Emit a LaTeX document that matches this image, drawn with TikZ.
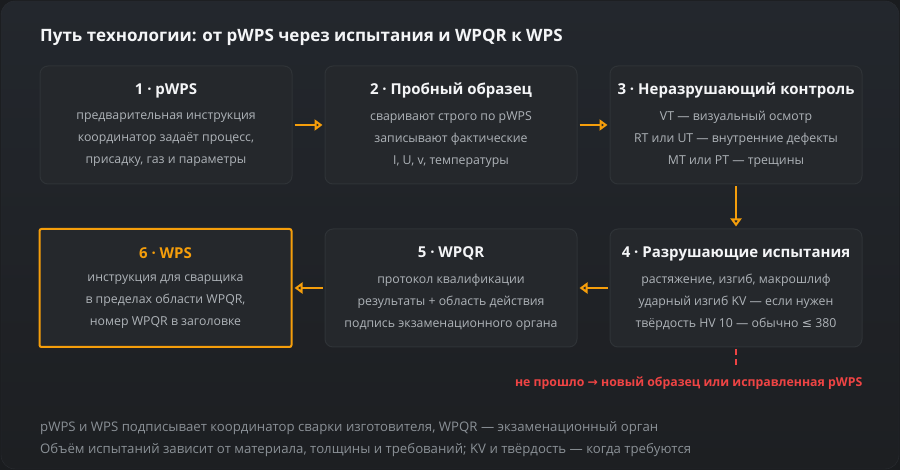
\documentclass[tikz,border=0pt]{standalone}
\usepackage{fontspec}
\setmainfont{Open Sans}
\newfontfamily\symfont{DejaVu Sans}
\usetikzlibrary{positioning,arrows.meta}

\definecolor{pagebg}{HTML}{1A1C1F}
\definecolor{bgtop}{HTML}{23272D}
\definecolor{bgbot}{HTML}{1D1F22}
\definecolor{frameline}{HTML}{2B2E33}
\definecolor{cardfill}{HTML}{25282C}
\definecolor{cardline}{HTML}{2F3337}
\definecolor{headwhite}{HTML}{F4F5F7}
\definecolor{bodygray}{HTML}{AEB3B8}
\definecolor{footgray}{HTML}{8A9096}
\definecolor{flowor}{HTML}{F59E0B}
\definecolor{failred}{HTML}{EF4444}

\tikzset{
  card/.style={draw=cardline, fill=cardfill, rounded corners=8pt, line width=1pt,
    minimum width=252pt, minimum height=118pt, inner sep=0pt},
  cardhead/.style={text=headwhite, font=\bfseries\fontsize{15}{18}\selectfont},
  cardbody/.style={text=bodygray, align=center, font=\fontsize{12.3}{22}\selectfont},
  flow/.style={draw=flowor, line width=2.5pt, -{Triangle[open,length=8pt,width=11pt]},
    shorten <=2pt, shorten >=2pt},
  footline/.style={anchor=base west, inner sep=0pt, text=footgray,
    font=\fontsize{13.2}{16}\selectfont},
}

\begin{document}
\begin{tikzpicture}[x=1pt, y=-1pt]
  \useasboundingbox (0,0) rectangle (900,470);
  % backdrop
  \fill[pagebg] (0,0) rectangle (900,470);
  \shade[top color=bgtop, bottom color=bgbot, draw=frameline, rounded corners=14pt]
    (1,1) rectangle (899,469);

  \node[anchor=base west, inner sep=0pt, text=headwhite, font=\bfseries\fontsize{17}{20}\selectfont] (title)
    at (40,42) {Путь технологии: от pWPS через испытания и WPQR к WPS};

  % top row
  \node[card] (b1) at (166,125) {};
  \node[card, right=32pt of b1] (b2) {};
  \node[card, right=32pt of b2] (b3) {};
  % bottom row, right to left
  \node[card, below=44pt of b3] (b4) {};
  \node[card, left=32pt of b4] (b5) {};
  \node[card, left=32pt of b5, draw=flowor, line width=2pt, rounded corners=2pt] (b6) {};

  \node[cardhead] (h1) at ([yshift=-25pt]b1.north) {1 · pWPS};
  \node[cardbody] (t1) at ([yshift=-74pt]b1.north)
    {предварительная инструкция\\координатор задаёт процесс,\\присадку, газ и параметры};
  \node[cardhead] (h2) at ([yshift=-25pt]b2.north) {2 · Пробный образец};
  \node[cardbody] (t2) at ([yshift=-74pt]b2.north)
    {сваривают строго по pWPS\\записывают фактические\\I, U, v, температуры};
  \node[cardhead] (h3) at ([yshift=-25pt]b3.north) {3 · Неразрушающий контроль};
  \node[cardbody] (t3) at ([yshift=-74pt]b3.north)
    {VT — визуальный осмотр\\RT или UT — внутренние дефекты\\MT или PT — трещины};
  \node[cardhead] (h4) at ([yshift=-25pt]b4.north) {4 · Разрушающие испытания};
  \node[cardbody] (t4) at ([yshift=-74pt]b4.north)
    {растяжение, изгиб, макрошлиф\\ударный изгиб KV — если нужен\\твёрдость HV 10 — обычно {\symfont ≤} 380};
  \node[cardhead] (h5) at ([yshift=-25pt]b5.north) {5 · WPQR};
  \node[cardbody] (t5) at ([yshift=-74pt]b5.north)
    {протокол квалификации\\результаты + область действия\\подпись экзаменационного органа};
  \node[cardhead, text=flowor] (h6) at ([yshift=-25pt]b6.north) {6 · WPS};
  \node[cardbody] (t6) at ([yshift=-74pt]b6.north)
    {инструкция для сварщика\\в пределах области WPQR,\\номер WPQR в заголовке};

  \draw[flow] (b1) -- (b2);
  \draw[flow] (b2) -- (b3);
  \draw[flow] (b3) -- (b4);
  \draw[flow] (b4) -- (b5);
  \draw[flow] (b5) -- (b6);

  % failed test
  \coordinate (failend) at ([yshift=-20pt]b4.south);
  \draw[failred, line width=2pt, dash pattern=on 6pt off 4pt, shorten <=2pt] (b4.south) -- (failend);
  \node[anchor=east, inner sep=0pt, text=failred, font=\bfseries\fontsize{12.3}{14}\selectfont] (fail)
    at ([yshift=-36pt]b4.south east) {не прошло {\symfont →} новый образец или исправленная pWPS};

  \node[footline] (foot1) at (40,431)
    {pWPS и WPS подписывает координатор сварки изготовителя, WPQR — экзаменационный орган};
  \node[footline] (foot2) at (40,453)
    {Объём испытаний зависит от материала, толщины и требований; KV и твёрдость — когда требуются};
\end{tikzpicture}
\end{document}
